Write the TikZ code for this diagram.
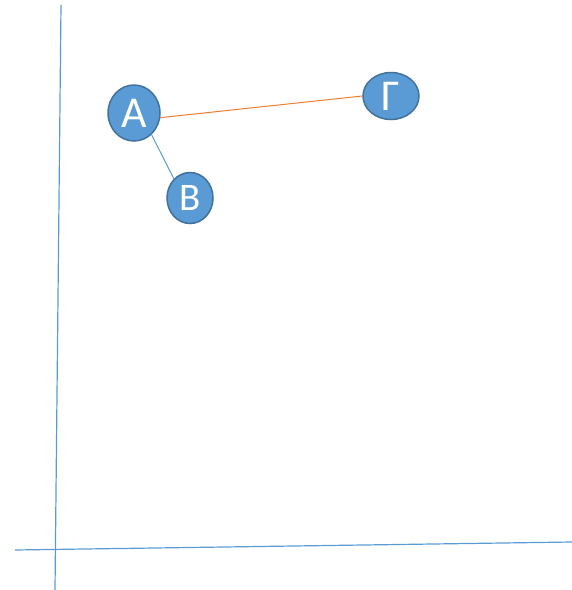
\documentclass[tikz,border=0pt]{standalone}
\usepackage{fontspec}
\setmainfont{Carlito}
\usetikzlibrary{shapes.geometric}
\definecolor{vblue}{RGB}{91,155,213}
\definecolor{vedge}{RGB}{65,113,156}
\definecolor{vorange}{RGB}{237,125,49}

\begin{document}
\begin{tikzpicture}[x=1pt,y=-1pt,
    vert/.style={ellipse,draw=vedge,line width=1.5pt,fill=vblue,text=white,inner sep=0pt},
    axis/.style={draw=vblue,line width=1.2pt}]
    \useasboundingbox (0,0) rectangle (572,590);
    % axes
    \coordinate (yt) at (61,5); \coordinate (yb) at (55,590);
    \coordinate (xl) at (15,550); \coordinate (xr) at (572,542);
    \draw[axis] (yt)--(yb); \draw[axis] (xl)--(xr);
    % vertices
    \node[vert,minimum width=52pt,minimum height=56pt,font=\fontsize{44}{44}\selectfont] (a) at (134,113) {A};
    \node[vert,minimum width=46pt,minimum height=51pt,font=\fontsize{39}{39}\selectfont] (b) at (190,198) {B};
    \node[vert,minimum width=56pt,minimum height=47pt,font=\fontsize{44}{44}\selectfont] (g) at (391,96) {Γ};
    \draw[vorange,line width=1pt] (a.-10)--(g.west); \draw[vblue,line width=1pt] (a.-51)--(b.130);
  \end{tikzpicture}
\end{document}
